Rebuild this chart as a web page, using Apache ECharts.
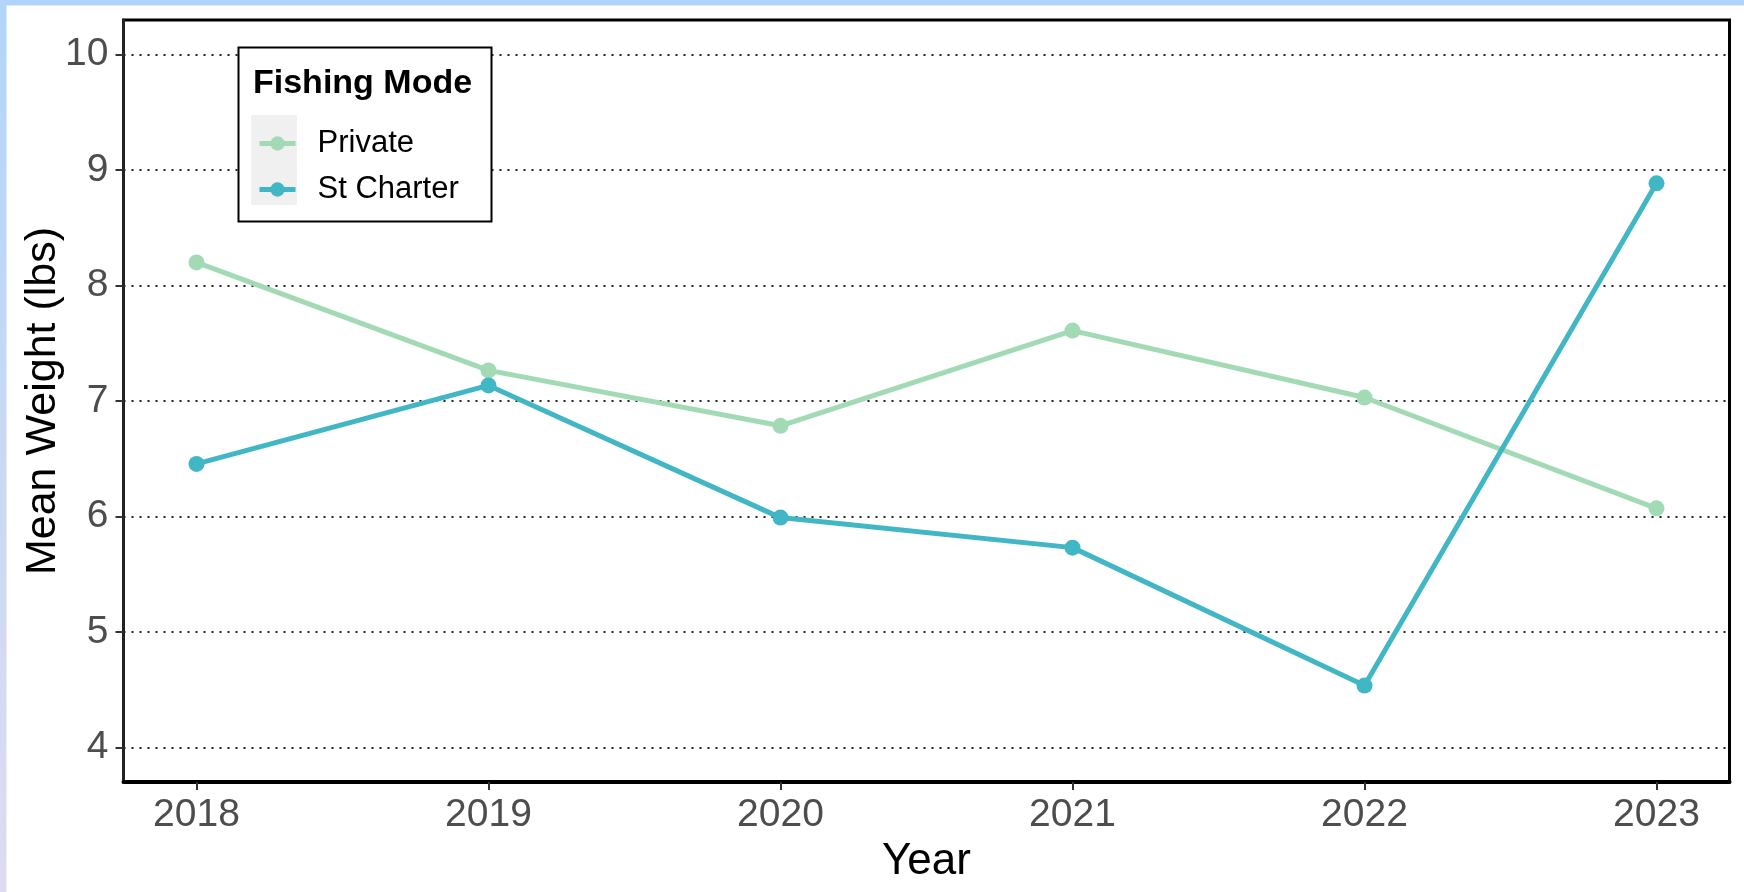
<!DOCTYPE html>
<html>
<head>
<meta charset="utf-8">
<script src="https://cdn.jsdelivr.net/npm/echarts@6/dist/echarts.min.js"></script>
<style>
  html, body { margin: 0; padding: 0; background: #ffffff; }
  #chart { width: 1744px; height: 892px; }
</style>
</head>
<body>
<div id="chart"></div>
<script>
// ---- data ----
const years = [2018, 2019, 2020, 2021, 2022, 2023];
const privateWeights = [8.20, 7.265, 6.785, 7.61, 7.03, 6.07];
const charterWeights = [6.455, 7.135, 5.99, 5.73, 4.535, 8.885];
const seriesNames = ['Private', 'St Charter'];
const xTicks = [2018, 2019, 2020, 2021, 2022, 2023];
const yTicks = [4, 5, 6, 7, 8, 9, 10];
const legendTitle = 'Fishing Mode';
const xTitle = 'Year';
const yTitle = 'Mean Weight (lbs)';

const FONT = '"Liberation Sans", Arial, sans-serif';
const colors = ['#a1dab4', '#41b6c4'];

const chart = echarts.init(document.getElementById('chart'), null, { renderer: 'canvas' });

function toPairs(xs, ys) { return xs.map((x, i) => [x, ys[i]]); }

const option = {
  animation: false,
  backgroundColor: '#ffffff',
  color: colors,
  grid: {
    left: 123.5, right: 14.5, top: 20, bottom: 110,
    show: true, borderColor: '#000000', borderWidth: 3, backgroundColor: '#ffffff'
  },
  graphic: [
    { type: 'rect', shape: { x: 0, y: 0, width: 1744, height: 5.5 }, style: { fill: '#afd3f9' }, z: 100, silent: true },
    { type: 'rect', shape: { x: 0, y: 0, width: 6.5, height: 892 },
      style: { fill: new echarts.graphic.LinearGradient(0, 0, 0, 1, [
        { offset: 0, color: '#b3d5f8' }, { offset: 1, color: '#dedcf0' }]) }, z: 100, silent: true },
    { type: 'rect', shape: { x: 238.5, y: 47.5, width: 253, height: 174 },
      style: { fill: '#ffffff', stroke: '#000000', lineWidth: 2 }, z: 50, silent: true },
    { type: 'rect', shape: { x: 251, y: 115, width: 46, height: 90 },
      style: { fill: '#f0f0f0' }, z: 51, silent: true },
    { type: 'text', x: 253, y: 67, z: 52,
      style: { text: legendTitle, font: 'bold 34px ' + FONT, fill: '#000000', verticalAlign: 'top', align: 'left' } }
  ],
  legend: {
    show: true,
    orient: 'vertical',
    left: 252, top: 123,
    itemWidth: 36, itemHeight: 18, itemGap: 15,
    z: 60,
    lineStyle: { width: 5 },
    textStyle: { fontFamily: FONT, fontSize: 31, color: '#000000', padding: [0, 0, 0, 17] },
    data: seriesNames
  },
  xAxis: {
    type: 'value',
    min: 2017.75, max: 2023.25,
    name: xTitle, nameLocation: 'middle', nameGap: 52,
    nameTextStyle: { fontFamily: FONT, fontSize: 44, color: '#000000' },
    axisLine: { show: true, onZero: false, lineStyle: { color: '#000000', width: 4 } },
    axisTick: { show: true, customValues: xTicks, length: 8, lineStyle: { color: '#333333', width: 2 } },
    axisLabel: { customValues: xTicks, margin: 14, fontFamily: FONT, fontSize: 39, color: '#4d4d4d',
      formatter: v => String(v) },
    splitLine: { show: false }
  },
  yAxis: {
    type: 'value',
    min: 3.7, max: 10.3,
    name: yTitle, nameLocation: 'middle', nameGap: 59, nameRotate: 90, nameMoveOverlap: false,
    nameTextStyle: { fontFamily: FONT, fontSize: 43, color: '#000000' },
    axisLine: { show: true, onZero: false, lineStyle: { color: '#222222', width: 3 } },
    axisTick: { show: true, customValues: yTicks, length: 8, lineStyle: { color: '#333333', width: 2 } },
    axisLabel: { customValues: yTicks, margin: 15, fontFamily: FONT, fontSize: 39, color: '#4d4d4d',
      formatter: v => String(v) },
    splitLine: { show: true, lineStyle: { color: '#222222', width: 2, type: [2, 6] } }
  },
  series: [
    {
      name: seriesNames[0], type: 'line',
      data: toPairs(years, privateWeights),
      symbol: 'circle', symbolSize: 16,
      lineStyle: { width: 5, color: colors[0] },
      itemStyle: { color: colors[0] },
      z: 3
    },
    {
      name: seriesNames[1], type: 'line',
      data: toPairs(years, charterWeights),
      symbol: 'circle', symbolSize: 16,
      lineStyle: { width: 5, color: colors[1] },
      itemStyle: { color: colors[1] },
      z: 4
    }
  ]
};

chart.setOption(option);
</script>
</body>
</html>
